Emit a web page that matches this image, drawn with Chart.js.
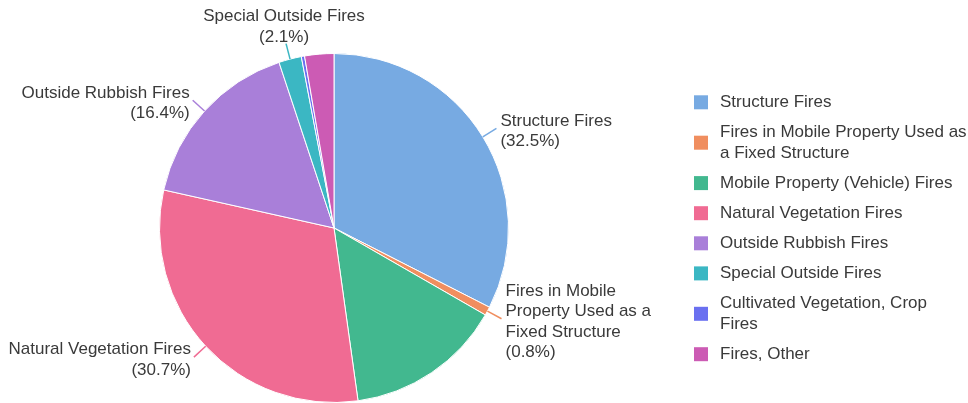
<!DOCTYPE html>
<html>
<head>
<meta charset="utf-8">
<script src="https://cdn.jsdelivr.net/npm/chart.js@4/dist/chart.umd.min.js"></script>
<style>
    html, body { margin: 0; padding: 0; background: #fff; }
    #wrap { position: relative; width: 968px; height: 403px; }
</style>
</head>
<body>
<div id="wrap"><canvas id="fireChart" width="968" height="403"></canvas></div>
<script>
// Fire incidents by type (share of total, %)
const categories = [
    'Structure Fires',
    'Fires in Mobile Property Used as a Fixed Structure',
    'Mobile Property (Vehicle) Fires',
    'Natural Vegetation Fires',
    'Outside Rubbish Fires',
    'Special Outside Fires',
    'Cultivated Vegetation, Crop Fires',
    'Fires, Other'
];
const shares = [32.5, 0.8, 14.5, 30.7, 16.4, 2.1, 0.3, 2.7];
const colors = ['#77aae2', '#f08e5f', '#42b88f', '#f06b93', '#a97fd9', '#3bb7c3', '#6a70f0', '#cc5bb4'];
// legend text, wrapped as in the original
const legendLines = [
    ['Structure Fires'],
    ['Fires in Mobile Property Used as', 'a Fixed Structure'],
    ['Mobile Property (Vehicle) Fires'],
    ['Natural Vegetation Fires'],
    ['Outside Rubbish Fires'],
    ['Special Outside Fires'],
    ['Cultivated Vegetation, Crop', 'Fires'],
    ['Fires, Other']
];
// slice labels drawn outside the pie (null = no label)
const sliceLabels = [
    ['Structure Fires', '(32.5%)'],
    ['Fires in Mobile', 'Property Used as a', 'Fixed Structure', '(0.8%)'],
    null,
    ['Natural Vegetation Fires', '(30.7%)'],
    ['Outside Rubbish Fires', '(16.4%)'],
    ['Special Outside Fires', '(2.1%)'],
    null,
    null
];

const FONT = '17px "Liberation Sans", Arial, sans-serif';
const TEXT = '#3a3a3a';
const LINE_H = 20.6;

// outside labels with leader lines
const outsideLabels = {
    id: 'outsideLabels',
    afterDatasetsDraw(chart) {
        const ctx = chart.ctx;
        const meta = chart.getDatasetMeta(0);
        ctx.save();
        ctx.font = FONT;
        ctx.fillStyle = TEXT;
        ctx.textBaseline = 'middle';
        meta.data.forEach(function(arc, i) {
            const lines = sliceLabels[i];
            if (!lines) return;
            const mid = (arc.startAngle + arc.endAngle) / 2;
            const cx = arc.x, cy = arc.y, r = arc.outerRadius;
            const cos = Math.cos(mid), sin = Math.sin(mid);
            const x0 = cx + cos * r, y0 = cy + sin * r;
            const x1 = cx + cos * (r + 16), y1 = cy + sin * (r + 16);
            ctx.strokeStyle = colors[i];
            ctx.lineWidth = 1.5;
            ctx.beginPath();
            ctx.moveTo(x0, y0);
            ctx.lineTo(x1, y1);
            ctx.stroke();
            const h = lines.length * LINE_H;
            let tx, top;
            if (Math.abs(cos) < 0.4) {
                ctx.textAlign = 'center';
                tx = x1 - 2;
                top = sin < 0 ? y1 - h + 4 : y1 + 2;
            } else if (cos > 0) {
                ctx.textAlign = 'left';
                tx = x1 + 4;
                top = y1 - h / 2 + 3;
            } else {
                ctx.textAlign = 'right';
                tx = x1 - 3;
                top = y1 - h / 2 + 3;
            }
            lines.forEach(function(t, k) {
                ctx.fillText(t, tx, top + LINE_H * k + LINE_H / 2);
            });
        });
        ctx.restore();
    }
};

// legend on the right
const sideLegend = {
    id: 'sideLegend',
    afterDraw(chart) {
        const ctx = chart.ctx;
        ctx.save();
        ctx.font = FONT;
        ctx.textBaseline = 'middle';
        ctx.textAlign = 'left';
        let y = 92;
        legendLines.forEach(function(lines, i) {
            const h = lines.length * LINE_H;
            const mid = y + h / 2;
            ctx.fillStyle = colors[i];
            ctx.fillRect(694, mid - 7, 14, 14);
            ctx.fillStyle = TEXT;
            lines.forEach(function(t, k) {
                ctx.fillText(t, 720, y + LINE_H * k + LINE_H / 2);
            });
            y += h + 9.5;
        });
        ctx.restore();
    }
};

new Chart(document.getElementById('fireChart'), {
    type: 'pie',
    data: {
        labels: categories,
        datasets: [{
            data: shares,
            backgroundColor: colors,
            borderColor: '#ffffff',
            borderWidth: 1
        }]
    },
    options: {
        responsive: false,
        animation: false,
        layout: { padding: { left: 159, top: 53, right: 459, bottom: 0 } },
        plugins: {
            legend: { display: false },
            tooltip: { enabled: false }
        }
    },
    plugins: [outsideLabels, sideLegend]
});
</script>
</body>
</html>
